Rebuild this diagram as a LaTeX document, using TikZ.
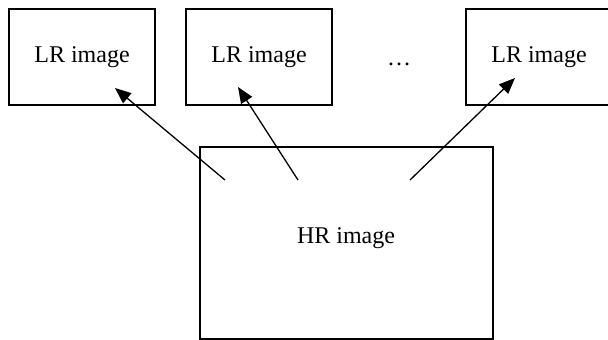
\documentclass[tikz,border=0pt]{standalone}
\usepackage{fontspec}
\setmainfont{Liberation Serif}
\usetikzlibrary{arrows.meta}
\begin{document}
\begin{tikzpicture}[x=1pt,y=-1pt,
  box/.style={draw=black, line width=1.3pt, inner sep=0pt, font=\fontsize{24}{28}\selectfont},
  lrbox/.style={box, minimum width=146pt, minimum height=96pt},
  arr/.style={line width=1.3pt, -{Triangle[length=16pt,width=13pt]}}]
\useasboundingbox (0,0) rectangle (608,340);
\clip (0,0) rectangle (608,340);
\node[lrbox] (lr1) at (82,57) {LR image};
\node[lrbox] (lr2) at (259,57) {LR image};
\node[lrbox] (lr3) at (539,57) {LR image};
\node[font=\fontsize{24}{28}\selectfont, anchor=base, inner sep=0pt] (dots) at (399,65) {…};
\node[box, minimum width=293pt, minimum height=192pt] (hr) at (346.5,243) {};
\node[font=\fontsize{24}{28}\selectfont, inner sep=0pt] (hrt) at (346,238) {HR image};
\coordinate (s1) at (225,180);
\coordinate (s2) at (298,180);
\coordinate (s3) at (410,180);
\coordinate (t1) at (115,88);
\coordinate (t2) at (238,87);
\coordinate (t3) at (515,78);
\draw[arr] (s1) -- (t1);
\draw[arr] (s2) -- (t2);
\draw[arr] (s3) -- (t3);
\end{tikzpicture}
\end{document}
